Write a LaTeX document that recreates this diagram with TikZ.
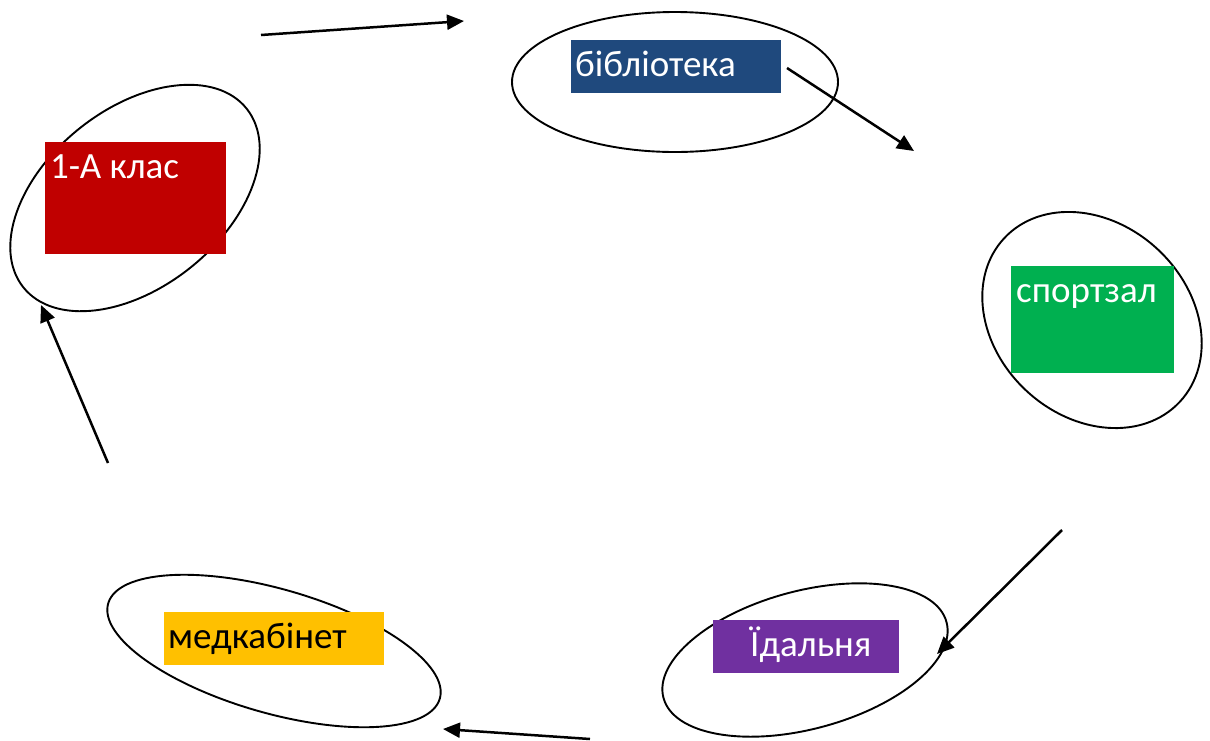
\documentclass[tikz,border=0pt]{standalone}
\usepackage{fontspec}
\setmainfont{Carlito}
\usetikzlibrary{shapes.geometric,arrows.meta}
\definecolor{cred}{HTML}{C00000}
\definecolor{cblue}{HTML}{1F497D}
\definecolor{cgreen}{HTML}{00B050}
\definecolor{cpurple}{HTML}{7030A0}
\definecolor{cyellow}{HTML}{FFC000}
\tikzset{
  oval/.style={draw=black, line width=1.9pt, ellipse, inner sep=0pt},
  tag/.style={inner sep=0pt, outer sep=0pt},
  lbl/.style={anchor=base west, inner sep=0pt, font=\fontsize{37}{40}\selectfont},
  flow/.style={line width=2.5pt, -{Triangle[length=17pt,width=15pt]}}
}
\begin{document}
\begin{tikzpicture}[x=1pt,y=-1pt]
\useasboundingbox (0,0) rectangle (1210,740);
% ellipses
\node[oval, minimum width=286pt, minimum height=178pt, rotate=38.7] (e1) at (135,198) {};
\node[oval, minimum width=326pt, minimum height=140pt] (e2) at (675,82) {};
\node[oval, minimum width=240pt, minimum height=193pt, rotate=-43] (e3) at (1092,320) {};
\node[oval, minimum width=293pt, minimum height=138pt, rotate=15] (e4) at (805,660) {};
\node[oval, minimum width=345pt, minimum height=124pt, rotate=-16] (e5) at (274,651) {};
% boxes
\node[tag, fill=cred, minimum width=181pt, minimum height=112pt] (r1) at (135.5,198) {};
\node[tag, fill=cblue, minimum width=210pt, minimum height=53pt] (r2) at (676,66.5) {};
\node[tag, fill=cgreen, minimum width=163pt, minimum height=107pt] (r3) at (1092.5,319.5) {};
\node[tag, fill=cpurple, minimum width=186pt, minimum height=53pt] (r4) at (806,646.5) {};
\node[tag, fill=cyellow, minimum width=220pt, minimum height=53pt] (r5) at (274,638.5) {};
% labels
\node[lbl, text=white] (t1) at (50,178) {1-А клас};
\node[lbl, text=white] (t2) at (575,76) {бібліотека};
\node[lbl, text=white] (t3) at (1016,302) {спортзал};
\node[lbl, text=white] (t4) at (750,656) {Їдальня};
\node[lbl, text=black] (t5) at (168,648) {медкабінет};
% arrow ends
\coordinate (a1s) at (261,35);
\coordinate (a1e) at (464,21);
\coordinate (a2s) at (787,68);
\coordinate (a2e) at (914,151);
\coordinate (a3s) at (1062,530);
\coordinate (a3e) at (937,654);
\coordinate (a4s) at (590,739);
\coordinate (a4e) at (443,729);
\coordinate (a5s) at (108,463);
\coordinate (a5e) at (41,305);
\draw[flow] (a1s) -- (a1e);
\draw[flow] (a2s) -- (a2e);
\draw[flow] (a3s) -- (a3e);
\draw[flow] (a4s) -- (a4e);
\draw[flow] (a5s) -- (a5e);
\end{tikzpicture}
\end{document}
